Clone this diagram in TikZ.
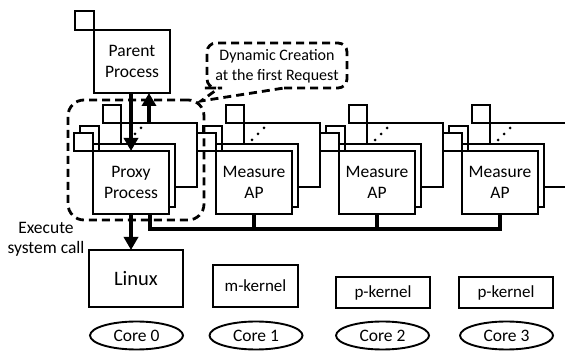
\documentclass[tikz,border=0pt]{standalone}
\usepackage{fontspec}
\setmainfont{Carlito}
\usetikzlibrary{arrows.meta,shapes.geometric}
\begin{document}
\begin{tikzpicture}[x=1pt,y=-1pt,
  every node/.style={inner sep=0pt, outer sep=0pt},
  ln/.style={line width=1.9pt},
  sq/.style={draw, ln, fill=white, minimum width=19pt, minimum height=18pt},
  win/.style={draw, ln, fill=white, minimum width=76pt, minimum height=63pt, align=center, font=\fontsize{17.5}{20.5}\selectfont},
  kbox/.style={draw, ln, fill=white, align=center, font=\fontsize{17}{20.5}\selectfont},
  core/.style={draw, ln, ellipse, minimum width=93pt, minimum height=28pt, font=\fontsize{17.5}{20.5}\selectfont},
  thk/.style={line width=3.8pt, -{Triangle[length=13pt,width=14pt]}},
  bus/.style={line width=4.2pt},
  dsh/.style={line width=2.8pt, dash pattern=on 8pt off 5pt},
  dotm/.style={fill, circle, minimum size=3pt}
]
\useasboundingbox (0,0) rectangle (565,352);
\clip (0,0) rectangle (565,352);

% parent process window
\node[sq, minimum height=19pt] (psq) at (84.5,20.5) {};
\node[win] (parent) at (132,61.5) {Parent\\Process};

% process groups
\foreach \i/\X/\t in {1/93/{Proxy\\Process},2/216/{Measure\\AP},3/339/{Measure\\AP},4/462/{Measure\\AP}}{
  \node[sq, minimum width=18pt] (bs\i) at (\X+19,114) {};
  \node[win, minimum height=64pt] (b\i) at (\X+66,155) {};
  \node[dotm] (d\i a) at (\X+36,140) {};
  \node[dotm] (d\i b) at (\X+42,134) {};
  \node[dotm] (d\i c) at (\X+48,128) {};
  \node[sq] (ms\i) at (\X-3.5,135) {};
  \node[win] (m\i) at (\X+44,175.5) {};
  \node[sq] (fs\i) at (\X-9.5,142) {};
  \node[win] (f\i) at (\X+38,182.5) {\t};
}

% kernels
\node[kbox, minimum width=94pt, minimum height=57pt, font=\fontsize{20.5}{24}\selectfont] (linux) at (136,278.5) {Linux};
\node[kbox, minimum width=85pt, minimum height=42pt] (mk) at (255.5,286) {m-kernel};
\node[kbox, minimum width=94pt, minimum height=31pt] (pk2) at (383,292.5) {p-kernel};
\node[kbox, minimum width=94pt, minimum height=31pt] (pk3) at (506,292.5) {p-kernel};

% cores
\node[core] (c0) at (136.5,335.5) {Core 0};
\node[core] (c1) at (256,335.5) {Core 1};
\node[core] (c2) at (382.5,335.5) {Core 2};
\node[core] (c3) at (506.5,335.5) {Core 3};

% bus
\draw[bus] ([xshift=19pt]f1.south) -- ++(0,15) -| (f4.south);
\draw[bus] (f2.south) -- ++(0,15);
\draw[bus] (f3.south) -- ++(0,15);

% arrows
\draw[thk] (f1.north |- parent.south) -- (f1.north);
\coordinate (u1) at ([xshift=28pt]b1.north west);
\draw[thk] (u1) -- (u1 |- parent.south);
\draw[thk] (f1.south) -- (f1.south |- linux.north);

\node[font=\fontsize{17.5}{20.5}\selectfont, align=center] (exec) at (46,239.5) {Execute\\system call};

% dashed area
\node[draw, dsh, rounded corners=16pt, minimum width=136pt, minimum height=120pt] (area) at (136,160) {};

% callout
\node[font=\fontsize{16}{20}\selectfont, align=center] (call) at (277,66.5) {Dynamic Creation\\at the first Request};
\draw[dsh] (284,88) [rounded corners=9pt] -- (347,88) -- (347,43) -- (207,43) -- (207,88) -- (213,88) [sharp corners] -- (219,88) -- (201,101) -- cycle;
\end{tikzpicture}
\end{document}
